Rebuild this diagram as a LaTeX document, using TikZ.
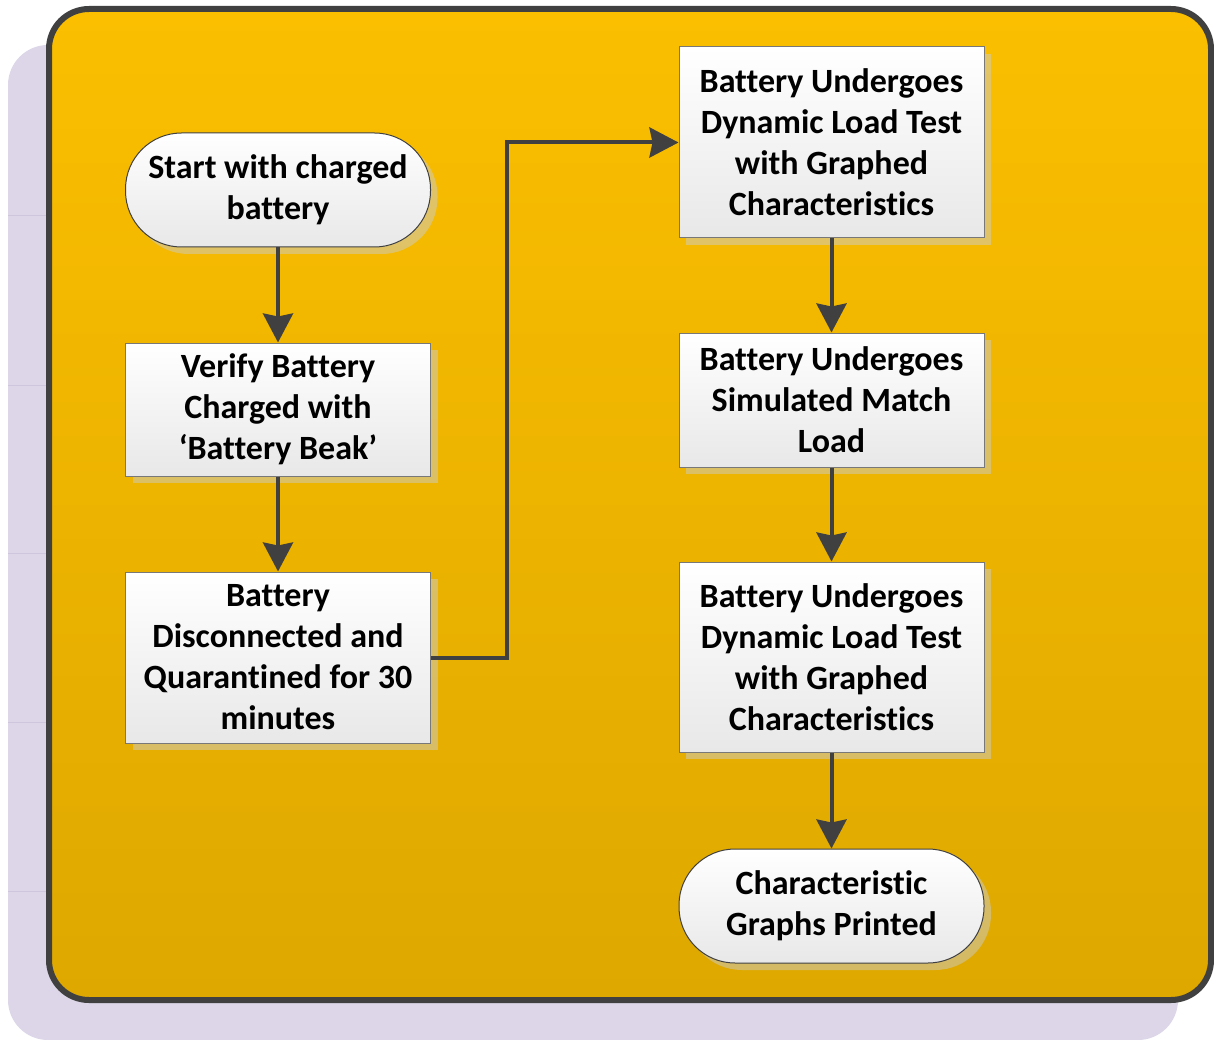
\documentclass[tikz,border=0pt]{standalone}
\usepackage{fontspec}
\setmainfont{Carlito}[Ligatures=NoCommon]
\usetikzlibrary{arrows.meta,shadows,calc}
\definecolor{dk}{RGB}{64,64,64}
\definecolor{lav}{RGB}{220,214,232}
\definecolor{lavline}{RGB}{205,198,220}
\definecolor{ytop}{RGB}{251,191,0}
\definecolor{ybot}{RGB}{222,168,0}
\definecolor{boxline}{RGB}{120,120,120}
\definecolor{boxbot}{RGB}{232,232,232}
\begin{document}
\begin{tikzpicture}[x=1pt,y=-1pt,
  txt/.style={font=\fontsize{34}{41}\selectfont\bfseries, align=center, text=black},
  shad/.style={drop shadow={shadow xshift=7pt, shadow yshift=-7pt, fill=gray!40, opacity=0.5}},
  procbox/.style={txt, shad, draw=boxline, line width=1pt, top color=white, bottom color=boxbot,
    minimum width=305pt, inner sep=0pt},
  termbox/.style={procbox, draw=dk, rounded corners=56pt, minimum height=114pt},
  arr/.style={draw=dk, line width=4pt, -{Stealth[length=29pt,width=30pt,inset=3pt]}}
]
\useasboundingbox (0,0) rectangle (1214,1040);
% background shadow panel
\fill[lav, rounded corners=40pt] (8,45) rectangle (1178,1040);
\foreach \yy in {215,385,553,722,891}
  \draw[lavline, line width=0.8pt] (8,\yy) -- (48,\yy);
% main panel
\draw[draw=dk, line width=6pt, top color=ytop, bottom color=ybot, rounded corners=40pt]
  (49,9) rectangle (1211,1000);
% nodes
\node[termbox] (start) at (278,190) {Start with charged\\battery};
\node[procbox, minimum height=133pt] (verify) at (278,409.5) {Verify Battery\\Charged with\\‘Battery Beak’};
\node[procbox, minimum height=171pt] (disc) at (278,657.5) {Battery\\Disconnected and\\Quarantined for 30\\minutes};
\node[procbox, minimum height=191pt] (dyn1) at (831.5,142.5) {Battery Undergoes\\Dynamic Load Test\\with Graphed\\Characteristics};
\node[procbox, minimum height=134pt] (sim) at (831.5,400) {Battery Undergoes\\Simulated Match\\Load};
\node[procbox, minimum height=190pt] (dyn2) at (831.5,657) {Battery Undergoes\\Dynamic Load Test\\with Graphed\\Characteristics};
\node[termbox] (final) at (831.5,906) {Characteristic\\Graphs Printed};
% connectors
\draw[arr] (start) -- (verify);
\draw[arr] (verify) -- (disc);
\draw[arr] (disc.east) -- ++(76,0) |- (dyn1.west);
\draw[arr] (dyn1) -- (sim);
\draw[arr] (sim) -- (dyn2);
\draw[arr] (dyn2) -- (final);
\end{tikzpicture}
\end{document}
